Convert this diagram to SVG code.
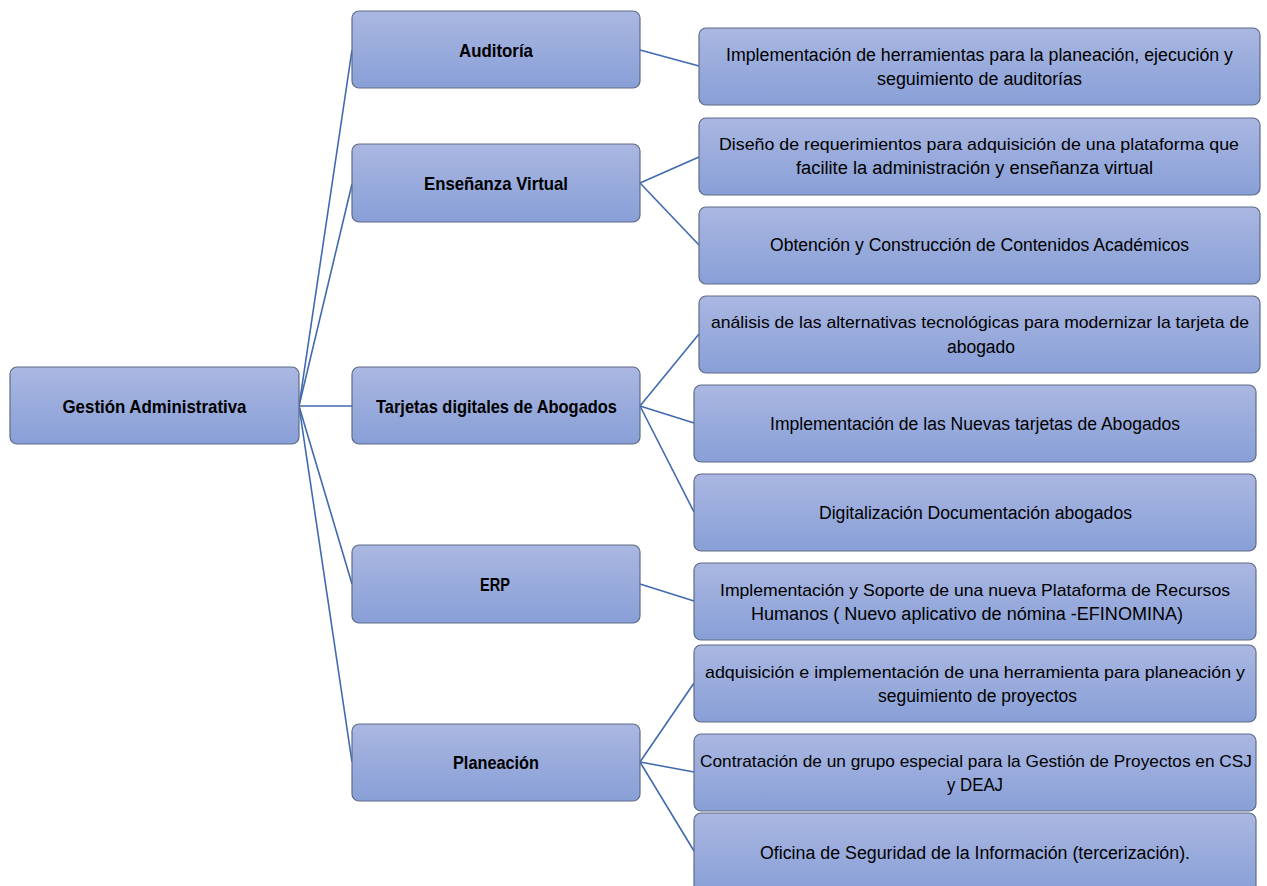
<svg xmlns="http://www.w3.org/2000/svg" width="1267" height="886" viewBox="0 0 1267 886">
<defs>
<linearGradient id="g" x1="0" y1="0" x2="0" y2="1">
<stop offset="0" stop-color="#aab7e1"/>
<stop offset="1" stop-color="#889fd7"/>
</linearGradient>
<style>
.box{fill:url(#g);stroke:#5f6b85;stroke-width:1.2}
.t{font-family:"Liberation Sans",Arial,sans-serif;font-size:18px;fill:#000;text-anchor:middle}
.s{font-size:17px}
.b{font-weight:bold;font-size:19px}
.c{fill:none;stroke:#4169b0;stroke-width:1.6}
</style>
</defs>
<rect width="1267" height="886" fill="#fff"/>
<g id="connectors" class="c">
<line x1="299" y1="406" x2="352" y2="50"/>
<line x1="299" y1="406" x2="352" y2="184"/>
<line x1="299" y1="406" x2="352" y2="406"/>
<line x1="299" y1="406" x2="352" y2="584"/>
<line x1="299" y1="406" x2="352" y2="762"/>
<line x1="640" y1="50" x2="699" y2="66"/>
<line x1="640" y1="183" x2="699" y2="157"/>
<line x1="640" y1="183" x2="699" y2="245"/>
<line x1="640" y1="406" x2="699" y2="334"/>
<line x1="640" y1="406" x2="694" y2="423"/>
<line x1="640" y1="406" x2="694" y2="512"/>
<line x1="640" y1="584" x2="694" y2="601"/>
<line x1="640" y1="762" x2="694" y2="683"/>
<line x1="640" y1="762" x2="694" y2="772"/>
<line x1="640" y1="762" x2="694" y2="851"/>
</g>
<g id="n-root"><rect class="box" x="10" y="367" width="289" height="77" rx="7"/><text class="t b" x="154.5" y="413" textLength="184" lengthAdjust="spacingAndGlyphs">Gestión Administrativa</text></g>
<g id="n-auditoria"><rect class="box" x="352" y="11" width="288" height="77" rx="7"/><text class="t b" x="496" y="57" textLength="74" lengthAdjust="spacingAndGlyphs">Auditoría</text></g>
<g id="n-ensenanza"><rect class="box" x="352" y="144" width="288" height="78" rx="7"/><text class="t b" x="496" y="190" textLength="144" lengthAdjust="spacingAndGlyphs">Enseñanza Virtual</text></g>
<g id="n-tarjetas"><rect class="box" x="352" y="367" width="288" height="77" rx="7"/><text class="t b" x="496.5" y="413" textLength="241" lengthAdjust="spacingAndGlyphs">Tarjetas digitales de Abogados</text></g>
<g id="n-erp"><rect class="box" x="352" y="545" width="288" height="78" rx="7"/><text class="t b" x="495" y="591" textLength="30" lengthAdjust="spacingAndGlyphs">ERP</text></g>
<g id="n-planeacion"><rect class="box" x="352" y="724" width="288" height="77" rx="7"/><text class="t b" x="496" y="769" textLength="86" lengthAdjust="spacingAndGlyphs">Planeación</text></g>

<g id="n-aud1"><rect class="box" x="699" y="28" width="561" height="77" rx="7"/>
<text class="t" x="979.5" y="61" textLength="507" lengthAdjust="spacingAndGlyphs">Implementación de herramientas para la planeación, ejecución y</text>
<text class="t" x="979.5" y="85" textLength="205" lengthAdjust="spacingAndGlyphs">seguimiento de auditorías</text></g>
<g id="n-ens1"><rect class="box" x="699" y="118" width="561" height="77" rx="7"/>
<text class="t s" x="979" y="150" textLength="520" lengthAdjust="spacingAndGlyphs">Diseño de requerimientos para adquisición de una plataforma que</text>
<text class="t" x="974.5" y="174" textLength="357" lengthAdjust="spacingAndGlyphs">facilite la administración y enseñanza virtual</text></g>
<g id="n-ens2"><rect class="box" x="699" y="207" width="561" height="77" rx="7"/>
<text class="t" x="979.5" y="251" textLength="419" lengthAdjust="spacingAndGlyphs">Obtención y Construcción de Contenidos Académicos</text></g>
<g id="n-tar1"><rect class="box" x="699" y="296" width="561" height="77" rx="7"/>
<text class="t s" x="980" y="328" textLength="538" lengthAdjust="spacingAndGlyphs">análisis de las alternativas tecnológicas para modernizar la tarjeta de</text>
<text class="t" x="981" y="353" textLength="68" lengthAdjust="spacingAndGlyphs">abogado</text></g>
<g id="n-tar2"><rect class="box" x="694" y="385" width="562" height="77" rx="7"/>
<text class="t" x="975" y="430" textLength="410" lengthAdjust="spacingAndGlyphs">Implementación de las Nuevas tarjetas de Abogados</text></g>
<g id="n-tar3"><rect class="box" x="694" y="474" width="562" height="77" rx="7"/>
<text class="t" x="975.5" y="519" textLength="313" lengthAdjust="spacingAndGlyphs">Digitalización Documentación abogados</text></g>
<g id="n-erp1"><rect class="box" x="694" y="563" width="562" height="77" rx="7"/>
<text class="t s" x="975" y="596" textLength="510" lengthAdjust="spacingAndGlyphs">Implementación y Soporte de una nueva Plataforma de Recursos</text>
<text class="t" x="967" y="620" textLength="432" lengthAdjust="spacingAndGlyphs">Humanos ( Nuevo aplicativo de nómina -EFINOMINA)</text></g>
<g id="n-pla1"><rect class="box" x="694" y="645" width="562" height="77" rx="7"/>
<text class="t s" x="975" y="678" textLength="540" lengthAdjust="spacingAndGlyphs">adquisición e implementación de una herramienta para planeación y</text>
<text class="t" x="977.5" y="702" textLength="199" lengthAdjust="spacingAndGlyphs">seguimiento de proyectos</text></g>
<g id="n-pla2"><rect class="box" x="694" y="734" width="562" height="77" rx="7"/>
<text class="t s" x="976" y="767" textLength="552" lengthAdjust="spacingAndGlyphs">Contratación de un grupo especial para la Gestión de Proyectos en CSJ</text>
<text class="t" x="975" y="791" textLength="56" lengthAdjust="spacingAndGlyphs">y DEAJ</text></g>
<g id="n-pla3"><rect class="box" x="694" y="813" width="562" height="80" rx="7"/>
<text class="t" x="975" y="859" textLength="430" lengthAdjust="spacingAndGlyphs">Oficina de Seguridad de la Información (tercerización).</text></g>
</svg>
